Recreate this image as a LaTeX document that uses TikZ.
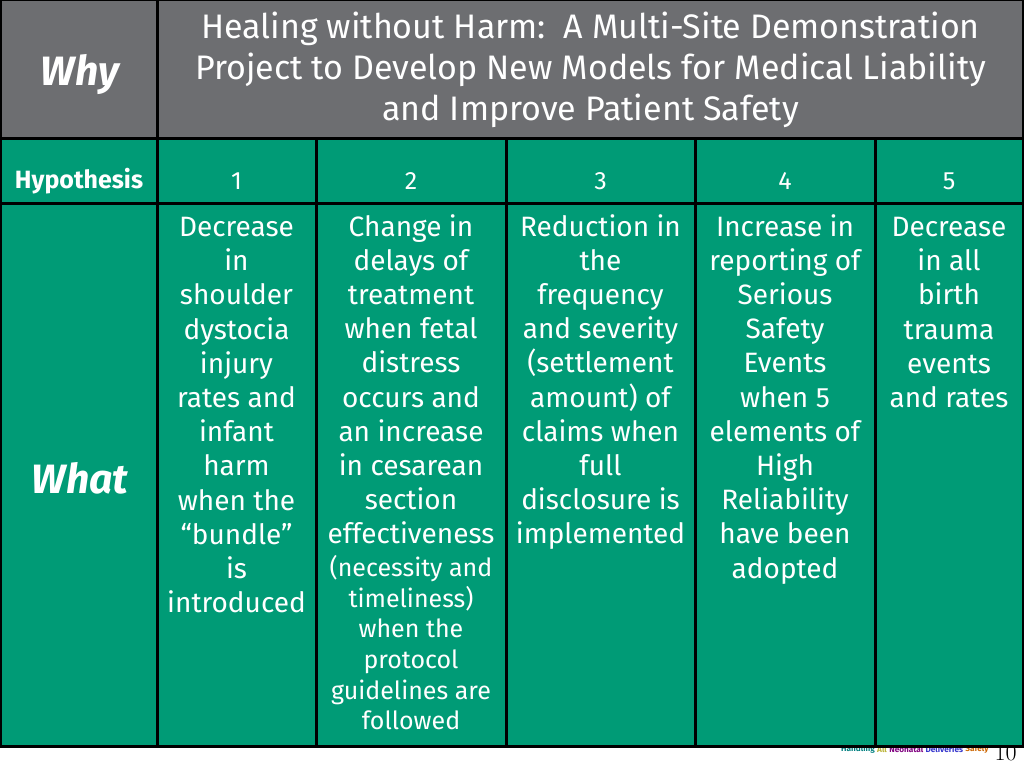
\documentclass[tikz,border=0pt]{standalone}
\usepackage{fontspec}
\setmainfont{Fira Sans}
\usepackage{xcolor}
\usetikzlibrary{positioning}
\definecolor{slate}{HTML}{6D6E71}
\definecolor{sitegreen}{HTML}{009B76}
\tikzset{
  cell/.style={draw=black, line width=3pt, anchor=north west, inner sep=0pt, outer sep=0pt, text=white},
  greycell/.style={cell, fill=slate},
  greencell/.style={cell, fill=sitegreen},
  bodytext/.style={text=white, font=\fontsize{28}{34.2}\selectfont, align=center, inner sep=0pt, anchor=north},
  smalltext/.style={font=\fontsize{25}{30.6}\selectfont},
  logotext/.style={font=\fontsize{8.2}{8.2}\selectfont\bfseries, inner sep=0pt, anchor=west}
}
\begin{document}
\begin{tikzpicture}[x=1pt,y=-1pt]
  \useasboundingbox (0,0) rectangle (1024,768);
  \fill[white] (0,0) rectangle (1024,768);
  % logo sits behind the table
  \node[logotext, text=teal] (logoA) at (841,749) {Handling};
  \node[logotext, text=yellow!70!black, right=2pt of logoA] (logoB) {All};
  \node[logotext, text=violet, right=2pt of logoB] (logoC) {Neonatal};
  \node[logotext, text=blue!60!gray, right=2pt of logoC] (logoD) {Deliveries};
  \node[logotext, text=orange!80!black, right=2pt of logoD] (logoE) {Safely};
  \node[font=\fontfamily{lmr}\fontsize{24}{24}\selectfont, inner sep=0pt] (pagenum) at (1005.5,753) {10};
  % first row
  \node[greycell, minimum width=157.5pt, minimum height=138.5pt] (why) at (0,0) {};
  \node[greycell, minimum width=866pt, minimum height=138.5pt] (title) at (157.5,0) {};
  \node[text=white, font=\fontsize{41}{41}\selectfont\bfseries\itshape] (whytext) at (80,75) {Why};
  \node[bodytext, font=\fontsize{34}{40.7}\selectfont] (titletext) at (590.5,12)
    {Healing without Harm:\ \ A Multi-Site Demonstration\\
     Project to Develop New Models for Medical Liability\\
     and Improve Patient Safety};
  % second row
  \node[greencell, minimum width=157.5pt, minimum height=65pt] (hyp) at (0,138.5) {};
  \node[greencell, minimum width=158.5pt, minimum height=65pt] (h1) at (157.5,138.5) {};
  \node[greencell, minimum width=190pt, minimum height=65pt] (h2) at (316,138.5) {};
  \node[greencell, minimum width=189pt, minimum height=65pt] (h3) at (506,138.5) {};
  \node[greencell, minimum width=180pt, minimum height=65pt] (h4) at (695,138.5) {};
  \node[greencell, minimum width=148.5pt, minimum height=65pt] (h5) at (875,138.5) {};
  \node[text=white, font=\fontsize{25}{25}\selectfont\bfseries] (hyptext) at (79,181) {Hypothesis};
  \foreach \i/\x in {1/236.5, 2/411, 3/600.5, 4/785, 5/949}
    \node[text=white, font=\fontsize{25}{25}\selectfont] (num\i) at (\x,181) {\i};
  % third row
  \node[greencell, minimum width=157.5pt, minimum height=542.5pt] (what) at (0,203.5) {};
  \node[greencell, minimum width=158.5pt, minimum height=542.5pt] (c1) at (157.5,203.5) {};
  \node[greencell, minimum width=190pt, minimum height=542.5pt] (c2) at (316,203.5) {};
  \node[greencell, minimum width=189pt, minimum height=542.5pt] (c3) at (506,203.5) {};
  \node[greencell, minimum width=180pt, minimum height=542.5pt] (c4) at (695,203.5) {};
  \node[greencell, minimum width=148.5pt, minimum height=542.5pt] (c5) at (875,203.5) {};
  \node[text=white, font=\fontsize{41}{41}\selectfont\bfseries\itshape] (whattext) at (80,478) {What};
  \node[bodytext] (t1) at (236.5,217)
    {Decrease\\in\\shoulder\\dystocia\\injury\\rates and\\infant\\harm\\when the\\“bundle”\\is\\introduced};
  \node[bodytext] (t2) at (411,214)
    {Change in\\delays of\\treatment\\when fetal\\distress\\occurs and\\an increase\\in cesarean\\section\\effectiveness};
  \node[bodytext, smalltext, below=11pt of t2] (t2b)
    {(necessity and\\timeliness)\\when the\\protocol\\guidelines are\\followed};
  \node[bodytext] (t3) at (600.5,214)
    {Reduction in\\the\\frequency\\and severity\\(settlement\\amount) of\\claims when\\full\\disclosure is\\implemented};
  \node[bodytext] (t4) at (785,214)
    {Increase in\\reporting of\\Serious\\Safety\\Events\\when 5\\elements of\\High\\Reliability\\have been\\adopted};
  \node[bodytext] (t5) at (949,217)
    {Decrease\\in all\\birth\\trauma\\events\\and rates};
\end{tikzpicture}
\end{document}
